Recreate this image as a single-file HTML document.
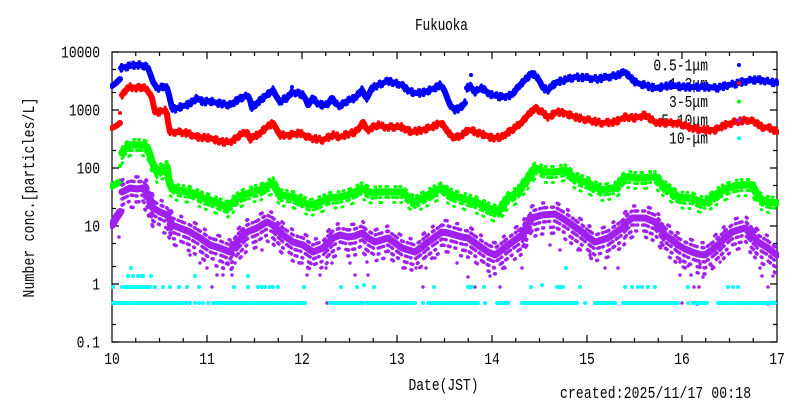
<!DOCTYPE html>
<html><head><meta charset="utf-8"><style>
html,body{margin:0;padding:0;background:#fff;}
svg{display:block;}
text{font-family:"Liberation Mono","IPAGothic",monospace;font-size:13px;fill:#000;}
</style></head><body>
<svg width="800" height="400" viewBox="0 0 800 400" xmlns="http://www.w3.org/2000/svg" xmlns:xlink="http://www.w3.org/1999/xlink">
<defs>
<clipPath id="c"><rect x="110" y="50" width="669" height="294"/></clipPath>
<polyline id="bl1" points="112,86 116,83 120,79"/>
<polyline id="bl2" points="121,68 125,67 130,66 135,65 140,65 145,66 148,68 151,76 153,82 157,88 160,88 164,86 167,88 169,95 172,108 175,109 180,107 187,105 192,102 197,98 200,100 203,102 210,101 217,103 223,104 230,105 236,101 243,97 248,96 250,100 252,108 256,104 263,98 268,94 273,90 276,96 280,102 284,99 287,98 292,92 297,93 303,95 306,100 308,105 313,98 318,104 323,105 327,105 332,98 336,104 340,106 345,102 350,100 355,98 360,92 362,90 365,96 367,98 370,92 372,88 378,85 383,83 388,81 395,83 402,85 405,88 408,90 412,92 415,93 420,93 425,92 430,90 435,88 440,85 443,88 445,92 448,100 450,105 455,110 460,108 463,105 465,103"/>
<polyline id="bl3" points="467,88 470,86 475,92 478,90 482,88 487,92 492,95 497,96 502,97 507,96 512,95 518,87 522,83 527,78 532,73 537,77 540,82 543,88 548,90 552,86 557,82 565,80 575,77 588,78 598,79 608,77 618,75 625,72 630,77 635,82 640,84 645,85 650,87 655,88 662,87 672,85 682,87 695,87 708,87 718,88 728,85 735,84 742,82 752,80 762,80 770,82 777,83"/>
<polyline id="rd" points="122,95 126,90 130,87 137,88 143,87 147,90 150,94 152,98 155,112 160,112 165,110 167,114 168,122 170,132 177,132 187,133 197,137 210,138 216,140 223,142 230,142 235,139 240,135 247,132 250,139 254,137 260,133 267,127 273,123 277,130 280,135 290,135 300,133 310,138 323,140 333,135 340,137 345,135 355,132 360,127 363,122 366,128 368,130 373,127 378,125 385,127 392,127 402,127 407,130 412,132 417,131 422,130 432,127 438,124 442,123 445,128 448,132 452,136 455,138 462,135 468,130 473,131 478,133 485,135 492,138 502,137 507,133 512,130 517,126 522,122 528,115 535,108 542,112 548,117 552,115 557,112 565,113 575,117 588,120 602,123 615,122 625,117 635,118 645,115 655,122 665,123 678,123 688,127 702,130 715,130 725,125 735,122 747,120 755,122 762,127 770,128 777,132"/>
<polyline id="gr" points="122,153 126,148 130,145 137,145 143,145 147,147 150,155 152,162 157,172 160,170 163,168 167,167 168,175 170,185 177,190 183,191 190,192 197,195 203,198 210,200 217,203 222,205 227,207 233,202 238,198 243,195 250,193 255,191 260,190 267,186 273,183 277,190 280,195 287,196 293,197 300,200 305,203 310,205 315,204 320,202 330,198 340,197 348,195 355,192 362,188 367,191 372,193 378,192 385,192 393,192 402,192 408,197 415,202 422,198 428,195 435,191 442,188 447,192 452,195 457,197 462,198 468,200 475,202 482,205 488,208 493,210 498,212 503,205 508,198 513,195 518,192 523,185 528,178 532,172 535,168 540,170 545,172 550,172 555,172 565,170 570,174 575,178 582,181 588,183 595,187 602,190 608,189 615,188 620,183 625,177 630,177 635,178 645,178 650,177 655,177 660,182 665,187 672,192 678,197 685,198 692,198 698,201 705,203 710,199 715,195 722,191 728,188 735,186 742,185 752,185 755,190 758,197 763,200 768,202 777,203"/>
<polyline id="pu" points="122,192 126,190 130,188 137,189 143,188 147,193 150,200 153,208 160,212 167,215 170,220 172,225 180,228 190,232 200,238 210,245 220,248 230,252 237,242 247,232 257,228 267,222 273,225 278,230 283,235 293,242 303,245 313,252 323,248 333,238 340,235 348,237 355,236 362,233 368,238 375,242 388,238 395,243 402,248 415,252 422,247 428,242 435,237 442,232 448,233 455,235 462,237 468,238 475,243 482,248 488,252 495,255 502,250 508,245 515,240 522,235 527,226 532,218 542,215 555,214 562,218 568,222 575,227 582,232 588,237 595,242 602,240 608,238 615,233 622,228 627,222 632,218 645,218 655,222 660,228 665,235 672,240 678,245 685,249 692,252 698,254 705,255 712,250 718,245 725,238 732,232 738,230 745,228 752,235 758,242 763,245 768,248 773,252 777,255"/>
</defs>

<!-- title & labels -->
<text transform="translate(441.5,30) scale(1,1.3)" text-anchor="middle" textLength="53">Fukuoka</text>
<text transform="translate(443.5,390) scale(1,1.3)" text-anchor="middle" textLength="70">Date(JST)</text>
<text transform="translate(560,398) scale(1,1.3)" textLength="191">created:2025/11/17 00:18</text>
<text transform="translate(34,197.5) rotate(-90) scale(1,1.3)" text-anchor="middle" textLength="200">Number conc.[particles/L]</text>

<!-- y tick labels -->
<g text-anchor="end">
<text transform="translate(100,57.5) scale(1,1.3)">10000</text>
<text transform="translate(100,115.5) scale(1,1.3)">1000</text>
<text transform="translate(100,173.5) scale(1,1.3)">100</text>
<text transform="translate(100,231.5) scale(1,1.3)">10</text>
<text transform="translate(100,289.5) scale(1,1.3)">1</text>
<text transform="translate(100,347.5) scale(1,1.3)">0.1</text>
</g>
<!-- x tick labels -->
<g text-anchor="middle">
<text transform="translate(112,364) scale(1,1.3)">10</text>
<text transform="translate(207,364) scale(1,1.3)">11</text>
<text transform="translate(302,364) scale(1,1.3)">12</text>
<text transform="translate(397,364) scale(1,1.3)">13</text>
<text transform="translate(492,364) scale(1,1.3)">14</text>
<text transform="translate(587,364) scale(1,1.3)">15</text>
<text transform="translate(682,364) scale(1,1.3)">16</text>
<text transform="translate(777,364) scale(1,1.3)">17</text>
</g>

<!-- legend text -->
<g text-anchor="end">
<text transform="translate(708,70.5) scale(1,1.3)">0.5-1μm</text>
<text transform="translate(708,88.8) scale(1,1.3)">1-3μm</text>
<text transform="translate(708,107.1) scale(1,1.3)">3-5μm</text>
<text transform="translate(708,125.4) scale(1,1.3)">5-10μm</text>
<text transform="translate(708,143.7) scale(1,1.3)">10-μm</text>
</g>

<!-- frame & ticks -->
<g stroke="#000" fill="none" stroke-width="1.2">
<rect x="112" y="52" width="665" height="290"/>
<path d="M112 52h7M112 110h7M112 168h7M112 226h7M112 284h7M112 342h7M777 52h-7M777 110h-7M777 168h-7M777 226h-7M777 284h-7M777 342h-7
M112 69.5h4M112 92.5h4M112 127.5h4M112 150.5h4M112 185.5h4M112 208.5h4M112 243.5h4M112 266.5h4M112 301.5h4M112 324.5h4
M777 69.5h-4M777 92.5h-4M777 127.5h-4M777 150.5h-4M777 185.5h-4M777 208.5h-4M777 243.5h-4M777 266.5h-4M777 301.5h-4M777 324.5h-4
M207 342v-7M302 342v-7M397 342v-7M492 342v-7M587 342v-7M682 342v-7M207 52v7M302 52v7M397 52v7M492 52v7M587 52v7M682 52v7
M135.75 342v-4M159.5 342v-4M183.25 342v-4M230.75 342v-4M254.5 342v-4M278.25 342v-4M325.75 342v-4M349.5 342v-4M373.25 342v-4M420.75 342v-4M444.5 342v-4M468.25 342v-4M515.75 342v-4M539.5 342v-4M563.25 342v-4M610.75 342v-4M634.5 342v-4M658.25 342v-4M705.75 342v-4M729.5 342v-4M753.25 342v-4
M135.75 52v4M159.5 52v4M183.25 52v4M230.75 52v4M254.5 52v4M278.25 52v4M325.75 52v4M349.5 52v4M373.25 52v4M420.75 52v4M444.5 52v4M468.25 52v4M515.75 52v4M539.5 52v4M563.25 52v4M610.75 52v4M634.5 52v4M658.25 52v4M705.75 52v4M729.5 52v4M753.25 52v4"/>
</g>

<g clip-path="url(#c)" fill="none" stroke-linejoin="round" stroke-linecap="round">
<!-- blue -->
<g stroke="#0000ff">
<use xlink:href="#bl1" stroke-width="6"/>
<use xlink:href="#bl2" stroke-width="6"/>
<use xlink:href="#bl3" stroke-width="6"/>
<use xlink:href="#bl2" stroke-width="2.5" stroke-dasharray="1 4 2 6 1 3" transform="translate(0,3.5)"/>
<use xlink:href="#bl3" stroke-width="2.5" stroke-dasharray="2 5 1 3 1 7" transform="translate(0,3.5)"/>
<use xlink:href="#bl2" stroke-width="2.5" stroke-dasharray="1 6 2 3 1 5" transform="translate(0,-3.5)"/>
<use xlink:href="#bl3" stroke-width="2.5" stroke-dasharray="1 3 2 7 1 4" transform="translate(0,-3.5)"/>
<path stroke-width="4" d="M471 75h0M292 87h0"/>
</g>
<!-- red -->
<g stroke="#ff0000">
<polyline stroke-width="6" points="112,128 116,126 120,123"/>
<path stroke-width="4" d="M120 113h0"/>
<use xlink:href="#rd" stroke-width="6"/>
<use xlink:href="#rd" stroke-width="2.5" stroke-dasharray="1 4 2 6 1 3" transform="translate(0,3.5)"/>
<use xlink:href="#rd" stroke-width="2.5" stroke-dasharray="2 5 1 3 1 7" transform="translate(0,-3.5)"/>
</g>
<!-- green -->
<g stroke="#00ff00">
<polyline stroke-width="7" points="112,186 116,184 120,182"/>
<path stroke-width="4" d="M120 166h0"/>
<use xlink:href="#gr" stroke-width="7.5"/>
<use xlink:href="#gr" stroke-width="3" stroke-dasharray="2 3 1 5 3 4 1 2" transform="translate(0,5.5)"/>
<use xlink:href="#gr" stroke-width="3" stroke-dasharray="1 5 2 7 1 4" transform="translate(0,-5.5)"/>
<use xlink:href="#gr" stroke-width="3" stroke-dasharray="1 9 2 12 1 6" transform="translate(0,10.5)"/>
</g>
<!-- purple -->
<g stroke="#a020f0">
<polyline stroke-width="8" points="112,225 116,218 120,212"/>
<use xlink:href="#pu" stroke-width="7"/>
<use xlink:href="#pu" stroke-width="3.5" stroke-dasharray="3 2 1 4 2 3 1 5" transform="translate(0,7)"/>
<use xlink:href="#pu" stroke-width="3.5" stroke-dasharray="2 4 1 3 3 5" transform="translate(0,-7)"/>
<use xlink:href="#pu" stroke-width="3.5" stroke-dasharray="2 5 1 7 3 4" transform="translate(0,13)"/>
<use xlink:href="#pu" stroke-width="3.5" stroke-dasharray="1 9 2 13 1 6" transform="translate(0,19)"/>
<use xlink:href="#pu" stroke-width="3.5" stroke-dasharray="1 14 2 10" transform="translate(0,-12)"/>
<path stroke-width="3.5" d="M119 237h0M190 255h0M200 263h0M207 268h0M217 275h0M223 275h0M232 275h0M223 268h0M228 263h0M235 263h0M212 287h0M302 263h0M307 275h0M308 268h0M320 275h0M326 268h0M332 263h0M350 263h0M355 275h0M368 275h0M367 262h0M403 268h0M416 268h0M426 268h0M423 287h0M435 258h0M327 303h0M457 263h0M468 277h0M475 287h0M490 276h0M494 268h0M500 287h0M505 268h0M522 268h0M605 268h0M618 268h0M680 275h0M691 275h0M694 287h0M699 287h0M703 277h0M760 268h0M762 276h0M768 287h0M773 276h0M682 303h0M697 304h0M768 304h0M680 262h0M688 266h0M700 264h0M712 266h0M720 262h0M550 245h0M560 250h0M578 250h0M590 255h0M240 258h0M262 250h0"/>
</g>
<!-- cyan -->
<g stroke="#00ffff" stroke-width="4">
<path d="M113 303H130M133 303H183M186 303h0M190 303h0M195 303h0M199 303h0M203 303h0M208 303h0M213 303h0M216 303h0M219 303H250M253 303H278M281 303H292M295 303H305M330 303H363M367 303H397M400 303H412M415 303h0M423 303h0M428 303H443M445 303H478M485 303h0M497 303H508M522 303H558M560 303H577M585 303h0M595 303H612M615 303h0M623 303H678M688 303h0M693 303H707M718 303H732M735 303H745M747 303H775"/>
<path d="M113 287h0M122 287h0M125 287H130M133 287H142M145 287H150M155 287h0M163 287h0M170 287h0M179 287h0M187 287h0M199 287h0M234 287h0M248 287h0M258 287h0M262 287h0M265 287h0M270 287h0M273 287h0M278 287h0M304 287h0M341 287h0M357 287h0M364 285h0M374 287h0M434 287h0M468 287H472M484 287h0M531 287h0M542 285h0M557 287H563M580 287h0M625 287h0M632 287h0M638 287h0M642 287h0M648 287h0M655 287h0M688 287h0M728 287h0M733 287h0M738 287h0"/>
<path d="M128 276h0M133 276h0M138 276h0M141 276h0M143 276h0M151 276h0M195 276h0M248 276h0M131 268h0M566 268h0"/>
</g>
</g>

<!-- legend markers -->
<g stroke-width="4" stroke-linecap="round">
<path stroke="#0000ff" d="M739 65h0"/>
<path stroke="#ff0000" d="M739 83.3h0"/>
<path stroke="#00ff00" d="M739 101.6h0"/>
<path stroke="#a020f0" d="M739 120h0"/>
<path stroke="#00ffff" d="M739 138.3h0"/>
</g>
</svg>
</body></html>
